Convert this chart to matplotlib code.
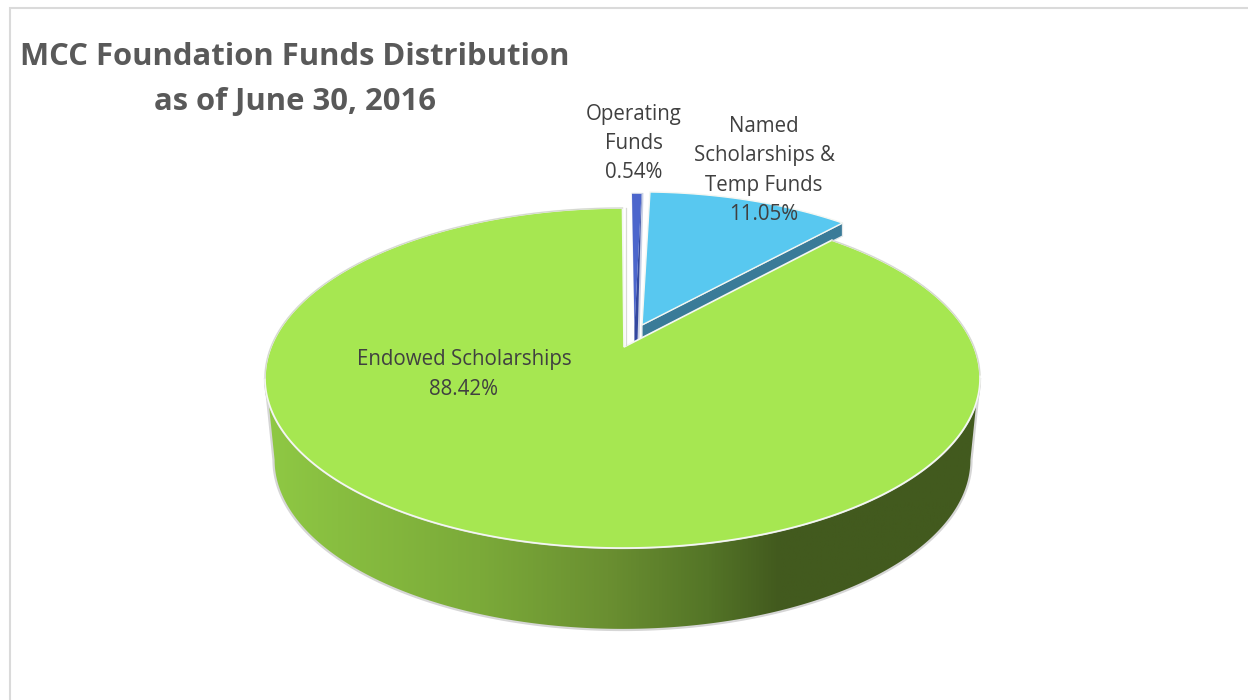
import numpy as np
import matplotlib
matplotlib.use("Agg")
import matplotlib.pyplot as plt
from matplotlib.colors import LinearSegmentedColormap
from matplotlib.patches import Polygon

# ---- data ----
categories = ["Endowed Scholarships", "Operating\nFunds", "Named\nScholarships &\nTemp Funds"]
shares = [88.42, 0.54, 11.05]
title_lines = "MCC Foundation Funds Distribution\nas of June 30, 2016"

# ---- style ----
C_ENDOWED = "#A6E751"
C_NAMED = "#58C8F0"
C_NAMED_SIDE = "#3A7B98"
C_OPER = "#4C66CC"
C_OPER_SIDE = "#34489F"
C_TEXT = "#404040"
C_TITLE = "#595959"
C_EDGE = "#F4F7F2"

fig = plt.figure(figsize=(12.48, 7.0), dpi=100, facecolor="white")
ax = fig.add_axes([0, 0, 1, 1])
ax.set_xlim(0, 1248)
ax.set_ylim(700, 0)
ax.axis("off")

# chart frame (top and left edges only are in view)
ax.plot([10, 10, 1248], [700, 8, 8], color="#DADADA", lw=1.5, zorder=1,
        solid_joinstyle="miter")

# geometry of the tilted pie
CX, CY, RX, RY = 622.5, 378.0, 357.5, 170.0
BOTTOM_CY, BOTTOM_RX = 460.0, 349.0
APEX = np.array([1.5, -31.0])
PERSP = 0.81


def warp(frac):
    """Clockwise share from 12 o'clock -> clockwise ellipse parameter (radians)."""
    th = 2 * np.pi * np.asarray(frac)
    return np.arctan2(PERSP * np.sin(th), np.cos(th))


def arc(cx, cy, rx, ry, f0, f1, n=300):
    t0 = warp(f0)
    t1 = warp(f1)
    if t1 <= t0:
        t1 += 2 * np.pi
    t = np.linspace(t0, t1, n)
    return np.column_stack([cx + rx * np.sin(t), cy - ry * np.cos(t)])


fr = np.array(shares) / 100.0
f_oper_end = fr[1]
f_named_end = fr[1] + fr[2]

# ---- side wall of the large slice, with horizontal gradient ----
t = np.linspace(np.pi / 2, 3 * np.pi / 2, 300)
low = np.column_stack([CX + BOTTOM_RX * np.sin(t), BOTTOM_CY - RY * np.cos(t)])
upp = np.column_stack([CX + RX * np.sin(t), CY - RY * np.cos(t)])
wall = np.vstack([[CX + RX, CY], low, [CX - RX, CY], upp[::-1]])
wall_patch = Polygon(wall, closed=True, facecolor="none", edgecolor="#D6D6D6", lw=1.6, zorder=3)
ax.add_patch(wall_patch)
cmap = LinearSegmentedColormap.from_list(
    "wall",
    [(0.0, "#8FC944"), (0.10, "#88BE40"), (0.30, "#7BAA39"), (0.48, "#6A8F31"),
     (0.62, "#547527"), (0.72, "#425A1E"), (1.0, "#425A1E")],
)
im = ax.imshow(np.linspace(0, 1, 512)[None, :], extent=[CX - RX, CX + RX, 640, 370],
               cmap=cmap, aspect="auto", zorder=2.5)
ax.set_xlim(0, 1248)
ax.set_ylim(700, 0)
im.set_clip_path(wall_patch)

# ---- large slice top ----
main_arc = arc(CX, CY, RX, RY, f_named_end, 1.0)
apex = np.array([CX, CY]) + APEX
ax.add_patch(Polygon(np.vstack([apex, main_arc]), closed=True, facecolor=C_ENDOWED,
                     edgecolor=C_EDGE, lw=1.2, joinstyle="miter", zorder=4))
back_y = np.where(main_arc[:, 1] < CY, main_arc[:, 1], np.nan)
ax.plot(main_arc[:, 0], back_y, color="#D5D8D0", lw=0.9, zorder=4.1)
ax.plot([apex[0] + 1.5, apex[0] + 1.5], [main_arc[-1, 1], apex[1] - 2], color="#D8DAD6",
        lw=0.9, zorder=4.1)

# ---- named scholarships slice ----
NX, NY, K = 640.5, 356.0, 0.965
named_arc = arc(NX, NY, RX * K, RY * K, f_oper_end, f_named_end, 80)
n_apex = np.array([NX, NY]) + APEX
DROP = 13.0
n_side = np.array([n_apex, named_arc[-1], named_arc[-1] + [0, DROP], n_apex + [0, DROP]])
ax.add_patch(Polygon(n_side, closed=True, facecolor=C_NAMED_SIDE, edgecolor="#E4E8EA",
                     lw=0.9, zorder=3.2))
ax.add_patch(Polygon(np.vstack([n_apex, named_arc]), closed=True, facecolor=C_NAMED,
                     edgecolor=C_EDGE, lw=1.0, joinstyle="miter", zorder=3.5))

# ---- operating funds slice ----
OX, OY = 632.0, 358.0
oper_arc = arc(OX, OY, RX * K, RY * K, 0.0, f_oper_end, 12)
o_apex = np.array([OX, OY]) + APEX + [1.0, 0]
o_side = np.array([oper_arc[-1], oper_arc[-1] + [0, 5], o_apex + [3, 14], o_apex + [0, 14], o_apex])
o_all = np.vstack([oper_arc, o_side[1:4], o_apex])
ax.add_patch(Polygon(o_all + [0.8, 0], closed=True, facecolor="none", edgecolor="#CBD3E6",
                     lw=1.6, zorder=3.1))
ax.add_patch(Polygon(o_side, closed=True, facecolor=C_OPER_SIDE, edgecolor="none", zorder=3.2))
ax.add_patch(Polygon(np.vstack([o_apex, oper_arc]), closed=True, facecolor=C_OPER,
                     edgecolor="none", zorder=3.4))

# ---- text ----
ax.text(295, 79.5, title_lines, ha="center", va="center", fontsize=22.3, fontweight="bold",
        family="Open Sans", color=C_TITLE, linespacing=1.65, zorder=6)


def label(x, y, name, value):
    ax.text(x, y, f"{name}\n{value:.2f}%", ha="center", va="center", fontsize=14.8,
            family="Open Sans", color=C_TEXT, linespacing=1.53, zorder=6)


label(464, 374.5, categories[0], shares[0])
label(634, 143.5, categories[1], shares[1])
label(764, 170.5, categories[2], shares[2])

fig.savefig("out.png", dpi=100, facecolor="white")
